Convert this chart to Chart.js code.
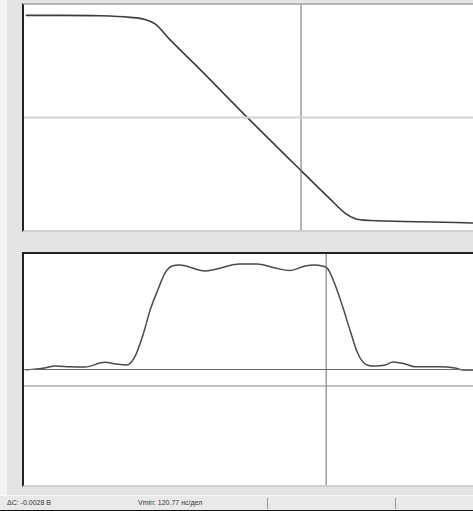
<!DOCTYPE html>
<html>
<head>
<meta charset="utf-8">
<script src="https://cdn.jsdelivr.net/npm/chart.js@4/dist/chart.umd.min.js"></script>
<style>
  html, body { margin: 0; padding: 0; }
  body {
    width: 473px; height: 511px; position: relative; overflow: hidden;
    background: #e4e4e4;
    font-family: "Liberation Sans", Arial, sans-serif;
  }
  .strip { position: absolute; left: 0; top: 0; width: 7px; height: 495px; background: #f4f4f4; }
  .panel { position: absolute; left: 22px; background: #fff; }
  #topPanel {
    top: 3px; width: 451px; height: 229px;
    border-top: 2px solid #b4b4b4; border-left: 2px solid #222; border-bottom: 2px solid #cfcfcf;
    box-sizing: border-box;
  }
  #botPanel {
    top: 252px; width: 451px; height: 235px;
    border-top: 2px solid #222; border-left: 2px solid #222; border-bottom: 2px solid #cfcfcf;
    box-sizing: border-box;
  }
  canvas { display: block; }
  .status {
    position: absolute; left: 0; top: 495px; width: 473px; height: 14px;
    background: #e9e9e9; border-top: 1px solid #f8f8f8; border-bottom: 2px solid #111;
    font-size: 7px; color: #333; line-height: 14px;
  }
  .status span { position: absolute; top: 0; }
  .sep { position: absolute; top: 2px; width: 1px; height: 11px; background: #999; }
</style>
</head>
<body>
<div class="strip"></div>
<div id="topPanel" class="panel"><canvas id="topChart" width="449" height="225"></canvas></div>
<div id="botPanel" class="panel"><canvas id="botChart" width="449" height="231"></canvas></div>
<div class="status">
  <span style="left:7px">ΔC: -0.0028 В</span>
  <span style="left:138px">Vmin: 120.77 нс/дел</span>
  <div class="sep" style="left:267px"></div>
  <div class="sep" style="left:395px"></div>
</div>
<script>
// Upper trace: roll-off response (x in % of sweep, y in % of range)
const topX = [0.4, 8.0, 16.9, 23.6, 26.9, 29.2, 32.5, 39.2, 48.1, 61.7, 68.2, 71.5, 73.7, 77.1, 88.2, 100];
const topY = [95.4, 95.4, 95.2, 94.5, 93.6, 91.6, 84.6, 71.4, 53.3, 26.4, 13.7, 7.5, 5.1, 4.2, 3.7, 3.1];
const topCursorX = 61.7;
const topMidLevel = 50;

// Lower trace: pass-band pulse around the zero level
const botX = [0.4, 4.7, 6.9, 10.2, 13.6, 18.0, 20.9, 22.9, 24.7, 26.5, 28.1, 29.8, 31.4, 33.0, 34.7,
              40.3, 48.1, 51.9, 55.9, 59.2, 62.6, 64.6, 66.4, 67.7, 69.3, 71.0, 72.6, 74.2, 75.5,
              77.5, 80.4, 82.2, 84.9, 87.1, 92.7, 96.0, 97.8, 100];
const botY = [-0.4, 1.3, 3.0, 2.4, 2.2, 6.2, 4.5, 3.9, 11.1, 29.9, 51.5, 68.8, 83.5, 89.6, 90.5,
              85.3, 91.3, 91.3, 87.9, 85.7, 89.6, 90.5, 89.6, 87.0, 73.2, 54.1, 34.2, 15.2, 6.5,
              3.0, 3.9, 6.5, 4.8, 2.4, 2.4, 1.3, -0.4, -0.4];
const botCursorX = 67.3;
const botZeroLevel = 0;
const botRefLevel = -14.3;

const pts = (xs, ys) => xs.map((x, i) => ({ x, y: ys[i] }));
const hLine = (y) => [{ x: 0, y }, { x: 100, y }];
const vLine = (x, lo, hi) => [{ x, y: lo }, { x, y: hi }];

function baseOptions(yMin, yMax) {
  return {
    responsive: false,
    animation: false,
    events: [],
    layout: { padding: 0 },
    plugins: { legend: { display: false }, tooltip: { enabled: false } },
    elements: { point: { radius: 0 } },
    scales: {
      x: { type: 'linear', min: 0, max: 100, display: false },
      y: { type: 'linear', min: yMin, max: yMax, display: false }
    }
  };
}

new Chart(document.getElementById('topChart'), {
  type: 'line',
  data: {
    datasets: [
      { data: hLine(topMidLevel), borderColor: '#d2d2d2', borderWidth: 2, tension: 0 },
      { data: vLine(topCursorX, -5, 110), borderColor: '#6a6a6a', borderWidth: 1, tension: 0 },
      { data: pts(topX, topY), borderColor: '#3c3c3c', borderWidth: 1.6,
        cubicInterpolationMode: 'monotone' }
    ]
  },
  options: baseOptions(0, 100)
});

new Chart(document.getElementById('botChart'), {
  type: 'line',
  data: {
    datasets: [
      { data: hLine(botRefLevel), borderColor: '#8a8a8a', borderWidth: 1.2, tension: 0 },
      { data: hLine(botZeroLevel), borderColor: '#6a6a6a', borderWidth: 1, tension: 0 },
      { data: vLine(botCursorX, -110, 110), borderColor: '#6a6a6a', borderWidth: 1, tension: 0 },
      { data: pts(botX, botY), borderColor: '#4a4a4a', borderWidth: 1.5,
        cubicInterpolationMode: 'monotone' }
    ]
  },
  options: baseOptions(-100, 100)
});
</script>
</body>
</html>
